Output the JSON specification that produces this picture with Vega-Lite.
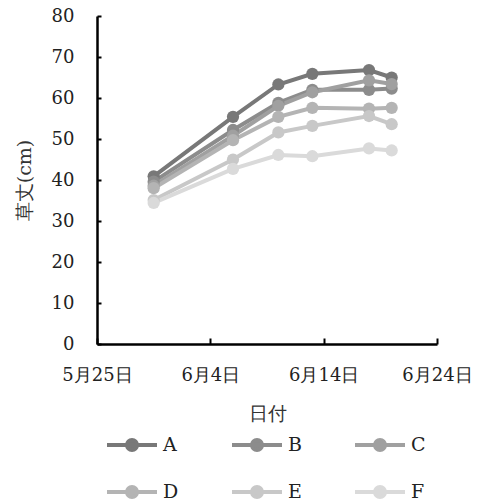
{
  "$schema": "https://vega.github.io/schema/vega-lite/v6.json",
  "width": 340,
  "height": 328,
  "autosize": {"type": "none"},
  "padding": {"left": 97, "top": 16, "right": 45, "bottom": 160},
  "background": "#ffffff",
  "config": {
    "font": "DejaVu Serif",
    "view": {"stroke": null},
    "axis": {
      "grid": false,
      "domainColor": "#000000",
      "domainWidth": 2.5,
      "tickColor": "#000000",
      "tickWidth": 2,
      "labelColor": "#222222",
      "labelFontSize": 18,
      "labelFont": "DejaVu Serif",
      "titleFont": "DejaVu Serif",
      "titleFontSize": 19,
      "titleFontWeight": "normal",
      "titleColor": "#333333"
    },
    "legend": {
      "labelFont": "DejaVu Serif",
      "labelFontSize": 19,
      "labelColor": "#222222"
    }
  },
  "data": {
    "values": [
      {"date": "2024/05/30", "series": "A", "value": 40.9},
      {"date": "2024/06/06", "series": "A", "value": 55.4},
      {"date": "2024/06/10", "series": "A", "value": 63.3},
      {"date": "2024/06/13", "series": "A", "value": 65.9},
      {"date": "2024/06/18", "series": "A", "value": 66.8},
      {"date": "2024/06/20", "series": "A", "value": 65.0},
      {"date": "2024/05/30", "series": "B", "value": 39.6},
      {"date": "2024/06/06", "series": "B", "value": 52.2},
      {"date": "2024/06/10", "series": "B", "value": 58.8},
      {"date": "2024/06/13", "series": "B", "value": 62.0},
      {"date": "2024/06/18", "series": "B", "value": 62.0},
      {"date": "2024/06/20", "series": "B", "value": 62.3},
      {"date": "2024/05/30", "series": "C", "value": 38.6},
      {"date": "2024/06/06", "series": "C", "value": 50.8},
      {"date": "2024/06/10", "series": "C", "value": 58.1},
      {"date": "2024/06/13", "series": "C", "value": 61.4},
      {"date": "2024/06/18", "series": "C", "value": 64.3},
      {"date": "2024/06/20", "series": "C", "value": 63.4},
      {"date": "2024/05/30", "series": "D", "value": 38.0},
      {"date": "2024/06/06", "series": "D", "value": 49.7},
      {"date": "2024/06/10", "series": "D", "value": 55.4},
      {"date": "2024/06/13", "series": "D", "value": 57.6},
      {"date": "2024/06/18", "series": "D", "value": 57.4},
      {"date": "2024/06/20", "series": "D", "value": 57.6},
      {"date": "2024/05/30", "series": "E", "value": 35.1},
      {"date": "2024/06/06", "series": "E", "value": 45.0},
      {"date": "2024/06/10", "series": "E", "value": 51.6},
      {"date": "2024/06/13", "series": "E", "value": 53.2},
      {"date": "2024/06/18", "series": "E", "value": 55.6},
      {"date": "2024/06/20", "series": "E", "value": 53.6},
      {"date": "2024/05/30", "series": "F", "value": 34.4},
      {"date": "2024/06/06", "series": "F", "value": 42.7},
      {"date": "2024/06/10", "series": "F", "value": 46.1},
      {"date": "2024/06/13", "series": "F", "value": 45.8},
      {"date": "2024/06/18", "series": "F", "value": 47.7},
      {"date": "2024/06/20", "series": "F", "value": 47.2}
    ]
  },
  "encoding": {
    "x": {
      "field": "date",
      "type": "temporal",
      "scale": {"domain": [{"year": 2024, "month": 5, "date": 25}, {"year": 2024, "month": 6, "date": 24}]},
      "axis": {
        "values": [
          {"year": 2024, "month": 5, "date": 25},
          {"year": 2024, "month": 6, "date": 4},
          {"year": 2024, "month": 6, "date": 14},
          {"year": 2024, "month": 6, "date": 24}
        ],
        "format": "%-m月%-d日",
        "labelFlush": false,
        "labelOverlap": false,
        "tickSize": -6,
        "labelPadding": 28,
        "title": "日付",
        "titlePadding": 20
      }
    },
    "y": {
      "field": "value",
      "type": "quantitative",
      "scale": {"domain": [0, 80]},
      "axis": {
        "values": [0, 10, 20, 30, 40, 50, 60, 70, 80],
        "tickSize": -4,
        "labelPadding": 27,
        "title": "草丈(cm)",
        "titlePadding": 17
      }
    },
    "color": {
      "field": "series",
      "type": "nominal",
      "scale": {
        "domain": ["A", "B", "C", "D", "E", "F"],
        "range": ["#787878", "#8c8c8c", "#a0a0a0", "#b4b4b4", "#c8c8c8", "#dadada"]
      },
      "legend": {
        "title": null,
        "orient": "none",
        "legendX": 8,
        "legendY": 419,
        "direction": "horizontal",
        "columns": 3,
        "symbolType": "M-1,0H1M-0.2,0A0.2,0.2 0 1,0 0.2,0A0.2,0.2 0 1,0 -0.2,0",
        "symbolSize": 2500,
        "symbolStrokeWidth": 4,
        "clipHeight": 20,
        "rowPadding": 27,
        "columnPadding": 51,
        "labelOffset": 4,
        "encode": {
          "symbols": {
            "update": {
              "fill": {"scale": "color", "field": "value"},
              "stroke": {"scale": "color", "field": "value"},
              "opacity": {"value": 1}
            }
          }
        }
      }
    }
  },
  "layer": [
    {"mark": {"type": "line", "strokeWidth": 4}},
    {"mark": {"type": "point", "filled": true, "size": 150, "opacity": 1}}
  ]
}
